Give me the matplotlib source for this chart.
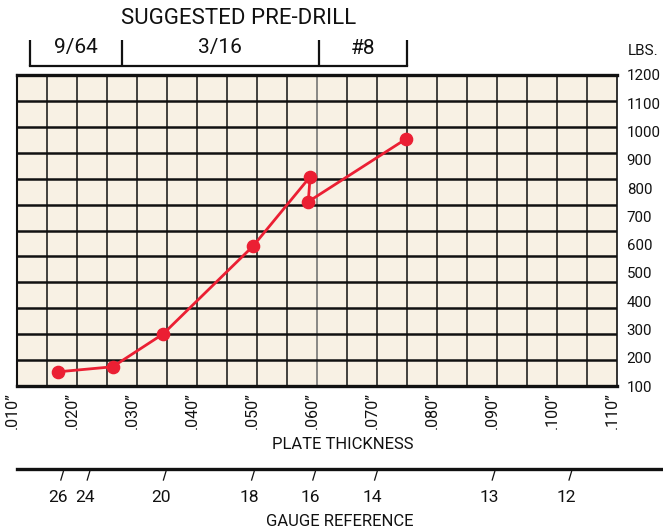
import numpy as np
import matplotlib
matplotlib.use("Agg")
import matplotlib.pyplot as plt
from matplotlib.transforms import ScaledTranslation, blended_transform_factory

# pull-out load vs plate thickness
thickness = [0.0168, 0.0260, 0.0344, 0.0494, 0.0589, 0.0586, 0.0749]
pullout = [150, 168, 284, 595, 840, 752, 974]

x_ticks = [0.010, 0.020, 0.030, 0.040, 0.050, 0.060, 0.070, 0.080, 0.090, 0.100, 0.110]
x_labels = ['.010\u201d', '.020\u201d', '.030\u201d', '.040\u201d', '.050\u201d', '.060\u201d',
            '.070\u201d', '.080\u201d', '.090\u201d', '.100\u201d', '.110\u201d']
y_ticks = [100, 200, 300, 400, 500, 600, 700, 800, 900, 1000, 1100, 1200]

gauge_names = ["26", "24", "20", "18", "16", "14", "13", "12"]
gauge_thickness = [0.0179, 0.0223, 0.0350, 0.0497, 0.0599, 0.0702, 0.0898, 0.1026]

drill_names = ["9/64", "3/16", "#8"]
drill_edges = [0.0122, 0.0276, 0.0603, 0.0751]

RED = "#EB1F33"
CREAM = "#F8F1E4"
INK = "#111111"
W, H = 663, 529

plt.rcParams["font.family"] = ["Roboto", "DejaVu Sans"]


def fx(x):
    return x / W


def fy(y):
    return 1 - y / H


fig = plt.figure(figsize=(W / 100, H / 100), dpi=100)

# main grid
ax = fig.add_axes([fx(16.7), fy(386), 600 / W, 311 / H])
ax.set_facecolor(CREAM)
ax.set_xlim(0.010, 0.110)
ax.set_ylim(100, 1200)

for xv in np.arange(0.015, 0.110, 0.005):
    col = "#6b6b6b" if abs(xv - 0.060) < 1e-6 else INK
    ax.axvline(xv, color=col, lw=1.1, zorder=1)
for yv in np.linspace(100, 1200, 13)[1:-1]:
    ax.axhline(yv, color=INK, lw=1.8, zorder=1)

for side, lw in [("top", 2.4), ("bottom", 2.4), ("left", 1.5), ("right", 1.2)]:
    ax.spines[side].set_linewidth(lw)
    ax.spines[side].set_color(INK)

ax.plot(thickness, pullout, color=RED, lw=2.0, marker="o", ms=8.8,
        zorder=3, clip_on=False)

ax.set_xticks(x_ticks)
ax.set_xticklabels(x_labels, rotation=90, fontsize=11.5)
ax.yaxis.tick_right()
ax.set_yticks(y_ticks)
ax.set_yticklabels([str(v) for v in y_ticks], fontsize=10.8)
ax.tick_params(axis="x", length=0, pad=4.3, colors=INK)
ax.tick_params(axis="y", length=0, pad=7.2, colors=INK)
for lab in ax.get_xticklabels():
    lab.set_transform(lab.get_transform() + ScaledTranslation(-4.5 / 100, 0, fig.dpi_scale_trans))

fig.text(fx(628), fy(50.8), "LBS.", fontsize=11, ha="left", va="center", color=INK)
fig.text(fx(342.8), fy(444.5), "PLATE THICKNESS", fontsize=12, ha="center", va="center", color=INK)

# suggested pre-drill bracket above the grid
trans = blended_transform_factory(ax.transData, ax.transAxes)
y_bar = (386 - 65.7) / 311
y_top = (386 - 40) / 311
y_txt = (386 - 48) / 311
ax.plot([drill_edges[0], drill_edges[-1]], [y_bar, y_bar], color=INK, lw=1.6,
        transform=trans, clip_on=False, solid_capstyle="projecting")
for e in drill_edges:
    ax.plot([e, e], [y_bar, y_top], color=INK, lw=1.6, transform=trans,
            clip_on=False, solid_capstyle="butt")
for name, a, b in zip(drill_names, drill_edges[:-1], drill_edges[1:]):
    ax.text((a + b) / 2, y_txt, name, transform=trans, ha="center", va="center",
            fontsize=15, color=INK)
fig.text(fx(238.3), fy(18.3), "SUGGESTED PRE-DRILL", fontsize=16, ha="center", va="center", color=INK)

# gauge reference scale
ax2 = fig.add_axes([fx(16.7), fy(482), (W - 16.7) / W, 13 / H])
ax2.set_xlim(0.010, 0.010 + (W - 16.7) / 6000)
ax2.set_ylim(0, 1)
ax2.patch.set_visible(False)
for side in ["left", "right", "bottom"]:
    ax2.spines[side].set_visible(False)
ax2.spines["top"].set_linewidth(2.4)
ax2.spines["top"].set_color(INK)
ax2.set_xticks([])
ax2.set_yticks([])
for g, name in zip(gauge_thickness, gauge_names):
    ax2.plot([g, g - 3.3 / 6000], [1, 0.15], color=INK, lw=0.9, clip_on=False)
    ax2.annotate(name, xy=(g, 1), xytext=(-6, -28.7), textcoords="offset pixels",
                 ha="center", va="center", fontsize=12.5, color=INK)
fig.text(fx(340), fy(521), "GAUGE REFERENCE", fontsize=12, ha="center", va="center", color=INK)

fig.savefig("out.png", dpi=100)
